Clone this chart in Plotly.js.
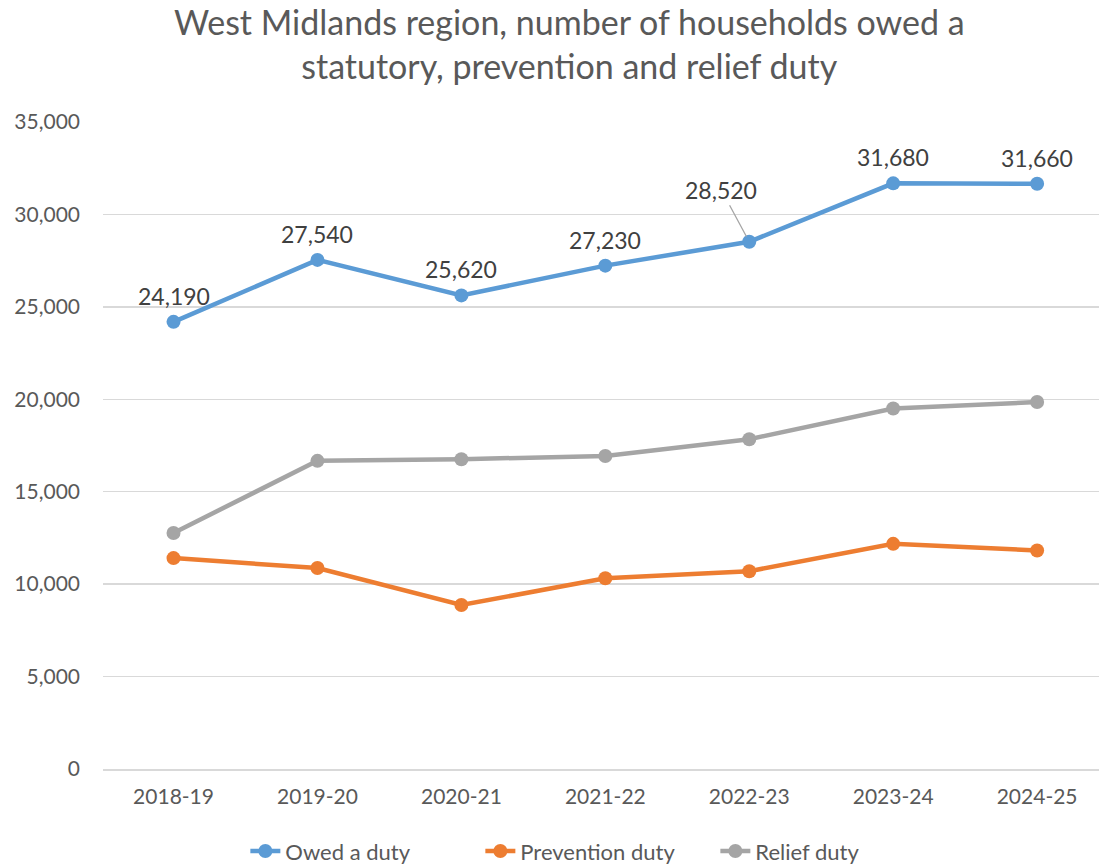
<!DOCTYPE html>
<html>
<head>
<meta charset="utf-8">
<script src="https://cdn.plot.ly/plotly-3.0.1.min.js"></script>
<style>html,body{margin:0;padding:0;background:#fff;}#chart{width:1099px;height:865px;}</style>
</head>
<body>
<div id="chart"></div>
<script>
const years = ["2018-19","2019-20","2020-21","2021-22","2022-23","2023-24","2024-25"];
const owedDuty = [24190, 27540, 25620, 27230, 28520, 31680, 31660];
const preventionDuty = [11410, 10870, 8870, 10320, 10700, 12180, 11820];
const reliefDuty = [12770, 16670, 16760, 16930, 17840, 19500, 19850];
const yTicks = [0, 5000, 10000, 15000, 20000, 25000, 30000, 35000];

const colors = {owed: "#5b9bd5", prev: "#ed7d31", relief: "#a5a5a5"};
function mk(name, y, c) {
  return {x: years, y: y, name: name, type: "scatter", mode: "lines+markers",
    line: {color: c, width: 4.5}, marker: {color: c, size: 14},
    hoverinfo: "x+y"};
}
const traces = [
  mk("Owed a duty", owedDuty, colors.owed),
  mk("Prevention duty", preventionDuty, colors.prev),
  mk("Relief duty", reliefDuty, colors.relief)
];
const fmt = v => v.toLocaleString("en-US");
const labelFont = {family: "Lato, sans-serif", size: 23, color: "#404040"};
const annotations = owedDuty.map((v, i) => {
  if (years[i] === "2022-23") {
    return {x: years[i], y: v, xref: "x", yref: "y", text: fmt(v), showarrow: true,
      arrowhead: 0, arrowwidth: 1.3, arrowcolor: "#a5a5a5", ax: -28, ay: -52,
      standoff: 6, font: labelFont};
  }
  return {x: years[i], y: v, xref: "x", yref: "y", text: fmt(v), showarrow: false,
    yshift: 26, font: labelFont};
});

const layout = {
  width: 1099, height: 865,
  margin: {l: 103, r: 0, t: 122, b: 96},
  paper_bgcolor: "#fff", plot_bgcolor: "#fff",
  font: {family: "Lato, sans-serif", color: "#595959"},
  title: {text: "West Midlands region, number of households owed a<br>statutory, prevention and relief duty",
    x: 0.518, xanchor: "center", yref: "container", y: 0.96, yanchor: "middle",
    font: {family: "Lato, sans-serif", size: 34, color: "#595959"}},
  xaxis: {type: "category", range: [-0.49, 6.43], showgrid: false, zeroline: false,
    showline: true, linecolor: "#d9d9d9", linewidth: 1.5, ticks: "",
    tickfont: {size: 21, color: "#595959"}, ticklabelstandoff: 8},
  yaxis: {range: [0, 35000], tickvals: yTicks, ticktext: yTicks.map(fmt),
    showgrid: true, gridcolor: "#d9d9d9", gridwidth: 1.5, zeroline: false,
    showline: false, ticks: "", tickfont: {size: 21, color: "#595959"}, ticklabelstandoff: 22},
  legend: {orientation: "h", x: 0.544, xanchor: "center", xref: "container",
    yref: "container", y: 0.016, yanchor: "middle",
    entrywidth: 190, entrywidthmode: "pixels",
    font: {size: 22, color: "#595959"}, traceorder: "normal"},
  showlegend: true,
  annotations: annotations
};
Plotly.newPlot("chart", traces, layout, {displayModeBar: false, staticPlot: true});
</script>
</body>
</html>
